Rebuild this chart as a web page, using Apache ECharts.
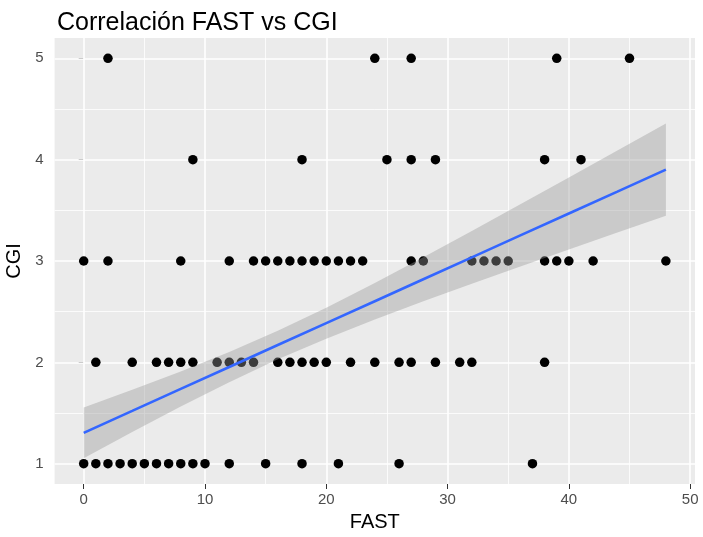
<!DOCTYPE html>
<html>
<head>
<meta charset="utf-8">
<script src="https://cdn.jsdelivr.net/npm/echarts@6/dist/echarts.min.js"></script>
<style>
  html, body { margin: 0; padding: 0; background: #fff; }
  #chart { width: 703px; height: 537px; }
</style>
</head>
<body>
<div id="chart"></div>
<script>
// FAST values for each CGI level
const fastCgi1 = [0, 1, 2, 3, 4, 5, 6, 7, 8, 9, 10, 12, 15, 18, 21, 26, 37];
const fastCgi2 = [1, 4, 6, 7, 8, 9, 11, 12, 13, 14, 16, 17, 18, 19, 20, 22, 24, 26, 27, 29, 31, 32, 38];
const fastCgi3 = [0, 2, 8, 12, 14, 15, 16, 17, 18, 19, 20, 21, 22, 23, 27, 28, 32, 33, 34, 35, 38, 39, 40, 42, 48];
const fastCgi4 = [9, 18, 25, 27, 29, 38, 41];
const fastCgi5 = [2, 24, 27, 39, 45];

// linear fit and confidence band
const fitX = [0, 4, 8, 12, 16, 20, 24, 28, 32, 36, 40, 44, 48];
const fitY = [1.305, 1.521, 1.738, 1.954, 2.171, 2.387, 2.603, 2.820, 3.036, 3.253, 3.469, 3.685, 3.902];
const bandLow = [1.055, 1.313, 1.565, 1.805, 2.030, 2.234, 2.422, 2.602, 2.775, 2.946, 3.114, 3.280, 3.447];
const bandHigh = [1.555, 1.729, 1.911, 2.103, 2.312, 2.540, 2.784, 3.038, 3.297, 3.560, 3.824, 4.090, 4.357];

// axis ticks
const xTicks = [0, 10, 20, 30, 40, 50];
const xMinor = [5, 15, 25, 35, 45];
const yTicks = [1, 2, 3, 4, 5];
const yMinor = [1.5, 2.5, 3.5, 4.5];

let points = [];
[fastCgi1, fastCgi2, fastCgi3, fastCgi4, fastCgi5].forEach((arr, i) => {
    arr.forEach(x => points.push([x, i + 1]));
});

let gridLines = [];
xTicks.forEach(v => gridLines.push({ xAxis: v, lineStyle: { width: 1.6 } }));
xMinor.forEach(v => gridLines.push({ xAxis: v, lineStyle: { width: 0.8 } }));
yTicks.forEach(v => gridLines.push({ yAxis: v, lineStyle: { width: 1.6 } }));
yMinor.forEach(v => gridLines.push({ yAxis: v, lineStyle: { width: 0.8 } }));

// band as one polygon: upper edge left to right, lower edge back
let bandData = fitX.map((x, i) => [x, bandLow[i], bandHigh[i]]);
function renderBand(params, api) {
    if (params.dataIndex !== 0) return;
    let pts = [];
    bandData.forEach(d => pts.push(api.coord([d[0], d[2]])));
    bandData.slice().reverse().forEach(d => pts.push(api.coord([d[0], d[1]])));
    return {
        type: 'polygon',
        shape: { points: pts },
        style: { fill: 'rgba(153,153,153,0.4)' }
    };
}

const font = 'Liberation Sans, Arial, sans-serif';
var myChart = echarts.init(document.getElementById('chart'));

var option = {
    animation: false,
    backgroundColor: '#FFFFFF',
    title: {
        text: 'Correlación FAST vs CGI',
        left: 52,
        top: 6,
        textStyle: { fontFamily: font, fontSize: 25, fontWeight: 'normal', color: '#000000' }
    },
    grid: {
        left: 54.6, right: 8, top: 38, bottom: 53,
        containLabel: false,
        outerBoundsMode: 'none',
        show: true, backgroundColor: '#EBEBEB', borderWidth: 0
    },
    xAxis: {
        type: 'value',
        min: -2.4,
        max: 50.4,
        name: 'FAST',
        nameLocation: 'middle',
        nameGap: 28,
        nameTextStyle: { fontFamily: font, fontSize: 20, color: '#000000' },
        axisLine: { show: false },
        axisTick: { show: true, length: 5, customValues: xTicks, lineStyle: { color: '#333333', width: 1 } },
        axisLabel: { customValues: xTicks, margin: 8, fontFamily: font, fontSize: 15, color: '#4D4D4D' },
        splitLine: { show: false }
    },
    yAxis: {
        type: 'value',
        min: 0.8,
        max: 5.2,
        name: 'CGI',
        nameLocation: 'middle',
        nameGap: 27,
        nameRotate: 90,
        nameTextStyle: { fontFamily: font, fontSize: 20, color: '#000000' },
        axisLine: { show: false },
        axisTick: { show: true, length: 5, customValues: yTicks, lineStyle: { color: '#333333', width: 1 } },
        axisLabel: { customValues: yTicks, margin: 11, fontFamily: font, fontSize: 15, color: '#4D4D4D' },
        splitLine: { show: false }
    },
    series: [
        {
            // white panel grid
            type: 'line',
            data: [],
            z: 1,
            silent: true,
            markLine: {
                z: 1,
                silent: true,
                symbol: ['none', 'none'],
                label: { show: false },
                lineStyle: { color: '#FFFFFF', type: 'solid' },
                emphasis: { disabled: true },
                data: gridLines
            }
        },
        {
            type: 'scatter',
            data: points,
            symbolSize: 9.5,
            itemStyle: { color: '#000000', opacity: 1 },
            z: 2
        },
        {
            type: 'custom',
            data: bandData,
            renderItem: renderBand,
            encode: { x: 0, y: [1, 2] },
            z: 3,
            silent: true
        },
        {
            type: 'line',
            data: fitX.map((x, i) => [x, fitY[i]]),
            symbol: 'none',
            lineStyle: { color: '#3366FF', width: 2.6 },
            z: 4,
            silent: true
        }
    ]
};

option && myChart.setOption(option);
</script>
</body>
</html>
